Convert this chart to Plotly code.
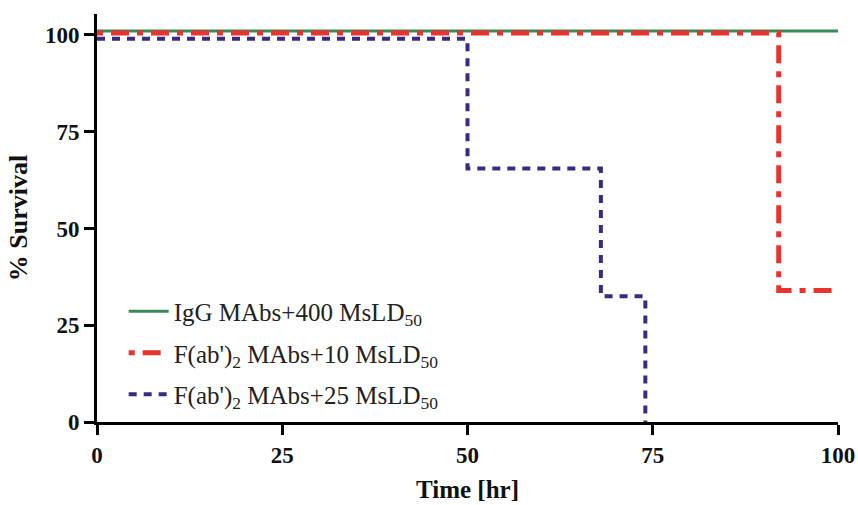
import plotly.graph_objects as go

# Data
igg_x = [0, 100]
igg_y = [101, 101]
f10_x = [0, 92, 100]
f10_y = [100.5, 34, 34]
f25_x = [0, 50, 68, 74]
f25_y = [99, 65.5, 32.5, 0]

names = ["IgG MAbs+400 MsLD<sub>50</sub>",
         "F(ab')<sub>2</sub> MAbs+10 MsLD<sub>50</sub>",
         "F(ab')<sub>2</sub> MAbs+25 MsLD<sub>50</sub>"]
x_ticks = [0, 25, 50, 75, 100]
y_ticks = [0, 25, 50, 75, 100]

fig = go.Figure()
fig.add_trace(go.Scatter(x=igg_x, y=igg_y, mode="lines", line_shape="hv",
                         line=dict(color="#3a8a57", width=3), name=names[0],
                         legendgroup="a", cliponaxis=False))
fig.add_trace(go.Scatter(x=f10_x, y=f10_y, mode="lines", line_shape="hv",
                         line=dict(color="#e8332e", width=5, dash="6px,8px,18px,8px"),
                         name=names[1], legendgroup="b", cliponaxis=False))
fig.add_trace(go.Scatter(x=f25_x, y=f25_y, mode="lines", line_shape="hv",
                         line=dict(color="#3a2a80", width=4, dash="8px,7px"),
                         name=names[2], legendgroup="c", cliponaxis=False))

tick_font = dict(family="Liberation Serif", size=23, color="#111111", weight="bold")
fig.update_layout(
    width=858, height=505,
    margin=dict(l=97, r=20, t=14, b=83),
    paper_bgcolor="white", plot_bgcolor="white",
    showlegend=True,
    legend=dict(x=0.036, y=0.327, xanchor="left", yanchor="top",
                font=dict(family="Liberation Serif", size=25, color="#222222"),
                bgcolor="rgba(0,0,0,0)", tracegroupgap=6, itemwidth=40),
    xaxis=dict(range=[0, 100], tickvals=x_ticks, showgrid=False, zeroline=False,
               automargin=False,
               showline=True, linecolor="black", linewidth=3,
               ticks="outside", ticklen=10, tickwidth=3, tickcolor="black",
               tickfont=tick_font,
               title=dict(text="<b>Time [hr]</b>", font=dict(family="Liberation Serif", size=25, color="#111111"), standoff=14)),
    yaxis=dict(range=[0, 105.4], tickvals=y_ticks, showgrid=False, zeroline=False,
               automargin=False,
               showline=True, linecolor="black", linewidth=3,
               ticks="outside", ticklen=10, tickwidth=3, tickcolor="black",
               tickfont=tick_font,
               title=dict(text="<b>% Survival</b>", font=dict(family="Liberation Serif", size=26, color="#111111"), standoff=10)),
)
fig.write_html("out.html")
